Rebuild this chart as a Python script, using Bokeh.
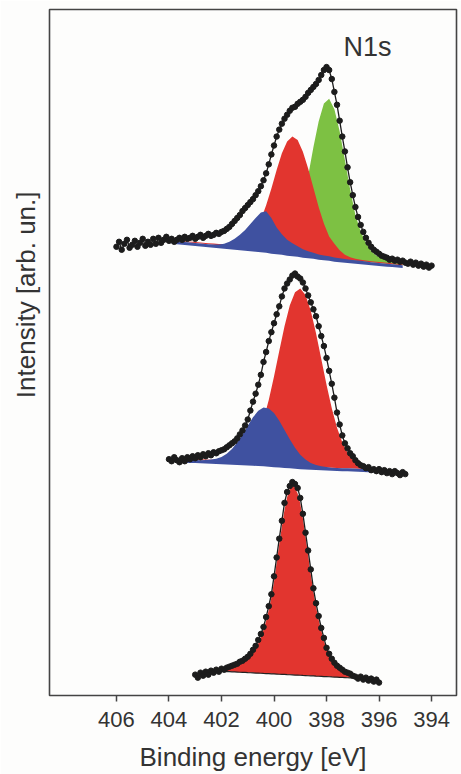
import numpy as np
from bokeh.plotting import figure
from bokeh.models import Range1d, FixedTicker, Label, Title
from bokeh.embed import file_html
from bokeh.resources import INLINE

FONT = "Liberation Sans"
TXT = "#333333"
DOT = "#1c1c1c"
RED = "#E2352F"
GREEN = "#7DC143"
BLUE = "#3F51A0"
BG = "#fdfdfc"

# ---------------- tick labels ----------------
tick_values = [406, 404, 402, 400, 398, 396, 394]

# ---------------- spectrum A (top, three components) ----------------
# measured points, 406.0 eV down to 394.0 eV in 0.1 eV steps
a_start, a_step = 406.0, -0.1
data_a = [
    452, 457, 449, 455, 459, 451, 454, 458, 452, 456,
    460, 453, 457, 454, 460, 455, 461, 456, 459, 462,
    458, 460, 457, 459, 461, 459, 462, 460, 461, 463,
    460, 462, 464, 461, 463, 465, 463, 464, 466, 465,
    467, 468, 470, 472, 475, 478, 481, 484, 488, 491,
    494, 497, 500, 504, 508, 513, 519, 526, 535, 545,
    554, 563, 570, 576, 581, 585, 589, 592, 593, 596,
    598, 600, 603, 607, 610, 613, 616, 620, 625, 630,
    633, 630, 621, 608, 595, 579, 563, 548, 532, 517,
    504, 492, 482, 474, 467, 461, 456, 452, 449, 447,
    445, 443, 442, 441, 439, 440, 438, 439, 437, 438,
    436, 435, 437, 434, 436, 433, 435, 432, 434, 431,
    433,
]
# fitted components, 403.9 eV down to 395.1 eV in 0.2 eV steps
ca_start, ca_step = 403.9, -0.2
base_a = [
    458, 457.5, 457, 456.5, 456, 455.5, 455, 454.5, 454, 453.5,
    453, 452.5, 452, 451.5, 451, 450.5, 450, 449.5, 449, 448,
    447.5, 447, 446, 445.5, 445, 444, 443.5, 443, 442, 441.5,
    441, 440, 439.5, 439, 438.5, 438, 437.5, 437, 436.5, 436,
    435.5, 435, 434.5, 434, 433.5,
]
blue_a = [
    0, 0, 0, 0, 0, 0, 0, 0, 0.3, 0.8,
    2, 4.5, 8, 12.5, 18, 24.5, 31, 37, 38.8, 33,
    24, 17.5, 13, 10, 7.5, 5.5, 4, 3, 2.2, 1.8,
    1.4, 1.1, 0.9, 0.7, 0.5, 0.4, 0.3, 0.2, 0, 0,
    0, 0, 0, 0, 0,
]
red_a = [
    0.8, 0.8, 0.9, 0.9, 1, 1, 1, 1.1, 1.2, 1.3,
    1.5, 2, 2.5, 4.5, 7.5, 12.5, 18.3, 29.7, 44.8, 62.8,
    81.9, 99.3, 112, 117.5, 114.5, 103.8, 87.4, 68.5, 50, 33.9,
    21.3, 15, 9, 5, 3, 2, 1.5, 1.2, 1, 1,
    1, 1, 1, 1, 1,
]
green_a = [
    0, 0, 0, 0, 0, 0, 0, 0, 0, 0,
    0, 0, 0, 0, 0, 0, 0, 0, 0, 1,
    2, 4, 8.8, 17.6, 32, 52.9, 79.7, 109.2, 136.2, 154.7,
    160, 150.4, 128.8, 100.3, 71.2, 45.9, 30, 19, 11, 7,
    5, 3.5, 2.5, 2, 1.5,
]

# ---------------- spectrum B (middle, two components) ----------------
b_start, b_step = 404.0, -0.1
data_b = [
    238, 236, 240, 237, 235, 239, 236, 240, 238, 241,
    239, 242, 240, 243, 241, 244, 242, 245, 244, 246,
    247, 248, 250, 252, 254, 256, 259, 263, 267, 272,
    278, 287, 296, 304, 313, 323, 336, 346, 357, 366,
    375, 384, 392, 402, 410, 415, 419, 423, 425, 422,
    420, 416, 410, 403, 396, 389, 382, 372, 362, 352,
    340, 327, 314, 300, 285, 273, 262, 254, 249, 244,
    241, 237, 234, 232, 231, 229, 230, 227, 228, 226,
    228, 225, 227, 224, 226, 223, 226, 224, 222, 225,
    223,
]
cb_start, cb_step = 403.4, -0.2
base_b = [
    237.5, 237.3, 237.1, 236.9, 236.7, 236.5, 236.3, 236, 235.8, 235.5,
    235.2, 235, 234.7, 234.4, 234.1, 233.8, 233.4, 233, 232.6, 232.2,
    231.8, 231.4, 231, 230.7, 230.4, 230.1, 229.8, 229.6, 229.4, 229.2,
    229, 228.8, 228.6, 228.4, 228.2, 228, 227.8, 227.6, 227.4,
]
blue_b = [
    0, 0, 0, 0, 0.6, 1.2, 2.3, 4.3, 7.7, 12.8,
    19.6, 28, 37.1, 45.8, 52.6, 56.2, 55.8, 51.5, 44.2, 35.3,
    26.2, 18.1, 11.6, 6.9, 3.8, 2, 1, 0.5, 0, 0,
    0, 0, 0, 0, 0, 0, 0, 0, 0,
]
red_b = [
    1, 1, 1, 1, 1, 1, 1, 1, 1, 1.5,
    2.8, 5.5, 10, 17.4, 28.5, 44.2, 64.3, 88.4, 114.4, 139.8,
    161, 174.8, 179, 172.7, 157.2, 134.9, 109.2, 83.3, 59.9, 40.6,
    26, 15.7, 8.9, 4.9, 2.4, 1.5, 1, 1, 1,
]

# ---------------- spectrum C (bottom, one component) ----------------
c_start, c_step = 403.0, -0.1
data_c = [
    21, 18, 23, 20, 24, 21, 25, 23, 26, 24,
    27, 26, 28, 29, 30, 31, 32, 34, 35, 37,
    39, 42, 46, 50, 56, 62, 69, 79, 90, 102,
    120, 139, 158, 176, 194, 205, 211, 215, 213, 209,
    199, 183, 164, 146, 127, 108, 93, 80, 68, 58,
    48, 42, 37, 33, 30, 28, 26, 24, 23, 22,
    20, 19, 17, 19, 16, 18, 15, 17, 14, 16,
    13,
]
cc_start, cc_step = 402.5, -0.1
base_c = [
    25.0, 24.9, 24.8, 24.6, 24.5, 24.4, 24.2, 24.1, 24.0, 23.8,
    23.7, 23.6, 23.4, 23.3, 23.2, 23.0, 22.9, 22.8, 22.6, 22.5,
    22.4, 22.2, 22.1, 22.0, 21.8, 21.7, 21.6, 21.4, 21.3, 21.2,
    21.0, 20.9, 20.8, 20.6, 20.5, 20.4, 20.2, 20.1, 19.9, 19.8,
    19.7, 19.5, 19.4, 19.3, 19.1, 19.0, 18.9, 18.7, 18.6, 18.5,
    18.3, 18.2, 18.1, 17.9, 17.8, 17.7, 17.5,
]
red_c = [
    0.5, 0.8, 1, 1.3, 1.6, 2, 2.4, 2.9, 3.5, 4.2,
    5, 6, 7.5, 9.5, 11.5, 14, 17, 20.5, 25, 30,
    36, 44, 53, 64, 77, 93, 112, 131, 149, 166,
    179, 187, 191, 189, 183, 173, 158, 140, 121, 102,
    85, 70, 57, 46, 36, 27.5, 21, 16, 12.5, 9.5,
    7.5, 6, 4.5, 3.5, 2.5, 1.5, 0.8,
]

BAND = 3.0  # thickness of the blue band drawn under the baseline (px units)


def energies(start, step, n):
    return np.round(start + step * np.arange(n), 2)


p = figure(width=461, height=774, output_backend="svg", toolbar_location=None,
           x_range=Range1d(408.55, 393.05), y_range=Range1d(0, 691),
           min_border_left=49, min_border_right=5, min_border_top=9,
           min_border_bottom=74)
p.background_fill_color = BG
p.border_fill_color = BG
p.outline_line_color = "#444444"
p.outline_line_width = 1.6
p.grid.visible = False

# y axis: kept only as an empty spacer (no ticks, no labels)
ya = p.yaxis[0]
ya.ticker = FixedTicker(ticks=[])
ya.axis_line_color = None
ya.major_tick_line_color = BG
ya.minor_tick_line_color = None
ya.major_tick_out = 6
ya.major_tick_in = 0
ya.minor_tick_out = 0
ya.major_label_standoff = 0

xa = p.xaxis[0]
xa.ticker = FixedTicker(ticks=tick_values)
xa.axis_line_color = None
xa.major_tick_line_color = "#444444"
xa.major_tick_line_width = 1.5
xa.major_tick_out = 6
xa.major_tick_in = 0
xa.minor_tick_line_color = None
xa.major_label_text_font = FONT
xa.major_label_text_font_size = "22px"
xa.major_label_text_color = TXT
xa.major_label_standoff = 10
xa.axis_label = "Binding energy [eV]"
xa.axis_label_text_font = FONT
xa.axis_label_text_font_size = "26px"
xa.axis_label_text_font_style = "normal"
xa.axis_label_text_color = TXT
xa.axis_label_standoff = 12

# --- spectrum A components
xa_c = energies(ca_start, ca_step, len(base_a))
ba = np.array(base_a)
p.varea(x=xa_c, y1=ba, y2=ba + np.array(green_a), fill_color=GREEN)
p.varea(x=xa_c, y1=ba, y2=ba + np.array(red_a), fill_color=RED)
p.varea(x=xa_c, y1=ba - BAND, y2=ba + np.array(blue_a), fill_color=BLUE)

# --- spectrum B components
xb_c = energies(cb_start, cb_step, len(base_b))
bb = np.array(base_b)
p.varea(x=xb_c, y1=bb, y2=bb + np.array(red_b), fill_color=RED)
p.varea(x=xb_c, y1=bb - BAND, y2=bb + np.array(blue_b), fill_color=BLUE)

# --- spectrum C component
xc_c = energies(cc_start, cc_step, len(base_c))
bc = np.array(base_c)
p.varea(x=xc_c, y1=bc, y2=bc + np.array(red_c), fill_color=RED)
p.line(x=xc_c, y=bc, line_color="#222222", line_width=1.2)

# --- measured points
for start, step, vals in [(a_start, a_step, data_a), (b_start, b_step, data_b),
                          (c_start, c_step, data_c)]:
    xs = energies(start, step, len(vals))
    p.line(x=xs, y=vals, line_color=DOT, line_width=1.3)
    p.scatter(x=xs, y=vals, size=5.5, fill_color=DOT, line_color=DOT)

p.add_layout(Label(x=397.35, y=653, text="N1s", text_align="left",
                   text_baseline="alphabetic", text_font=FONT,
                   text_font_size="27px", text_color=TXT))
p.add_layout(Title(text="Intensity [arb. un.]", align="right", offset=182,
                   vertical_align="top",
                   text_font=FONT, text_font_size="26px", text_font_style="normal",
                   text_color=TXT, standoff=14), "left")

open("out.html", "w").write(file_html(p, INLINE))
